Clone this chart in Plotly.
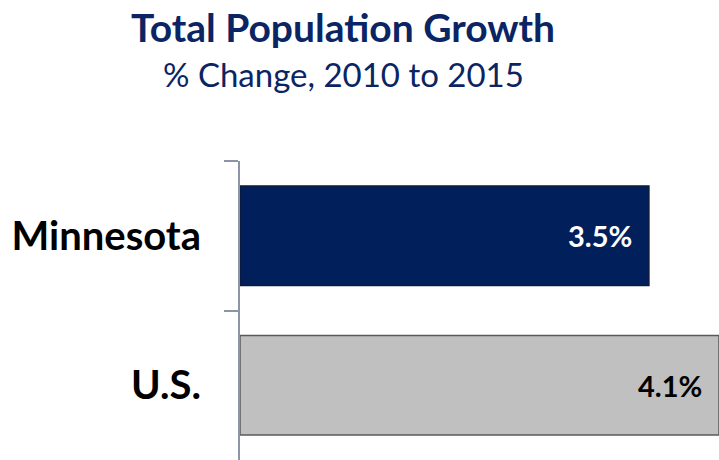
import plotly.graph_objects as go

# datos
regions = ["Minnesota", "U.S."]
growth_pct = [3.5, 4.1]
bar_colors = ["#001f5b", "#c0c0c0"]
bar_lines = ["#0b1a3a", "#595959"]
label_colors = ["white", "black"]

NAVY = "#0b2463"
FONT = "Lato, 'Open Sans', sans-serif"

# geometria en pixeles (para ubicar titulos en coordenadas paper)
W, H = 719, 460
M_L, M_T = 240, 161
PLOT_W, PLOT_H = W - M_L, H - M_T


def paper_x(px):
    return (px - M_L) / PLOT_W


def paper_y(py):
    return 1 + (M_T - py) / PLOT_H


fig = go.Figure()
fig.add_trace(go.Bar(
    y=regions, x=growth_pct, orientation="h",
    width=0.667,
    marker=dict(color=bar_colors, line=dict(color=bar_lines, width=1.5)),
    hoverinfo="skip",
))

# etiquetas de valor dentro de la barra
for reg, val, col in zip(regions, growth_pct, label_colors):
    fig.add_annotation(
        x=val, y=reg, xref="x", yref="y",
        text=f"<b>{val:.1f}%</b>", showarrow=False,
        xanchor="right", xshift=-15,
        font=dict(family=FONT, size=29, color=col),
    )

fig.add_annotation(
    x=paper_x(343), y=paper_y(27), xref="paper", yref="paper",
    xanchor="center", yanchor="middle",
    text="<b>Total Population Growth</b>", showarrow=False,
    font=dict(family=FONT, size=39, color=NAVY),
)
fig.add_annotation(
    x=paper_x(343), y=paper_y(74), xref="paper", yref="paper",
    xanchor="center", yanchor="middle",
    text="% Change, 2010 to 2015", showarrow=False,
    font=dict(family=FONT, size=33, color=NAVY),
)

fig.update_layout(
    width=W, height=H,
    margin=dict(l=M_L, r=0, t=M_T, b=0),
    paper_bgcolor="white", plot_bgcolor="white",
    showlegend=False,
    bargap=0.333,
)

fig.update_xaxes(range=[0, 4.1], visible=False, fixedrange=True)
fig.update_yaxes(
    autorange="reversed", tickson="boundaries",
    showline=True, linecolor="#8c94a6", linewidth=2,
    ticks="outside", ticklen=14, tickcolor="#8c94a6", tickwidth=2,
    ticklabelstandoff=29,
    tickfont=dict(family=FONT, size=40, color="black", weight="bold"),
    showgrid=False, zeroline=False, fixedrange=True,
)

fig.write_html(
    "out.html",
    config={"displayModeBar": False},
    post_script="document.body.style.margin='0';",
)
